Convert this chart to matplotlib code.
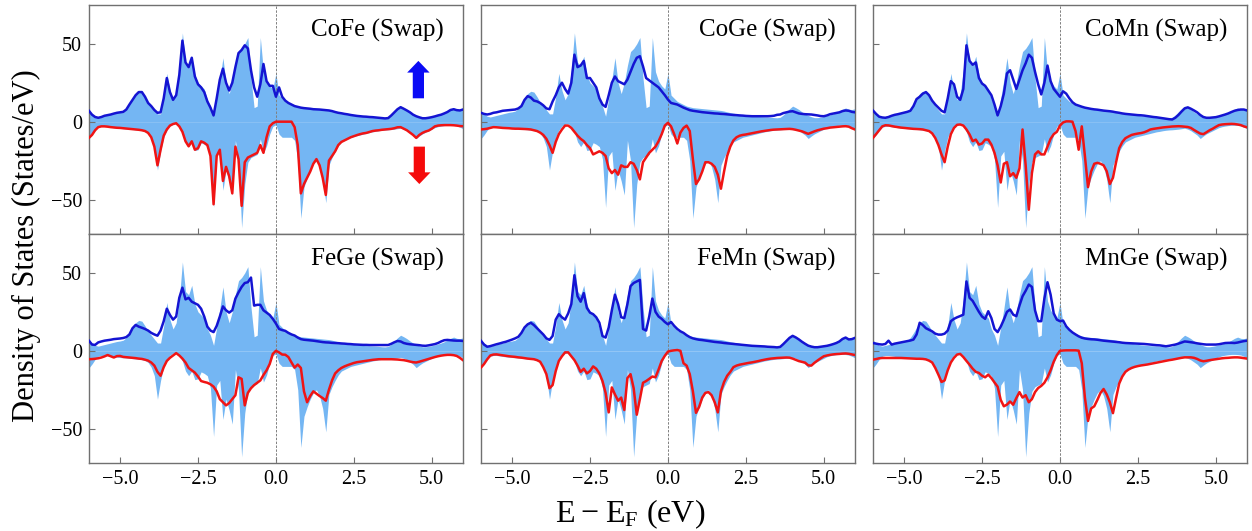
import numpy as np
import matplotlib
matplotlib.use("Agg")
import matplotlib.pyplot as plt

plt.rcParams["font.family"] = ["Liberation Serif", "DejaVu Serif"]
plt.rcParams["mathtext.fontset"] = "custom"
plt.rcParams["mathtext.rm"] = "Liberation Serif"
plt.rcParams["mathtext.default"] = "regular"

# Energy grid (eV, relative to the Fermi level)
energy = np.linspace(-6.0, 6.0, 121)

# Pristine reference DOS (shaded background)
ref_up = [7, 5, 3.5, 3, 3.5, 4, 4.5, 5, 5.5, 6,
          6.3, 6.8, 8.5, 11.5, 15, 18, 19.5, 19, 16, 12.5,
          10, 7.5, 5, 5, 16, 31, 20, 14, 18, 33,
          57, 38, 36, 42, 30, 25, 23, 21, 14, 10,
          3.5, 15, 27, 41, 25, 18, 25, 36, 45, 47,
          50, 54, 28, 9, 10, 54, 32, 26, 23, 21,
          31, 17, 15, 13, 12, 11, 10, 9.5, 9, 8.8,
          8.6, 8.4, 8.2, 8, 7.8, 7.6, 7.4, 7.2, 6.8, 6.3,
          5.8, 5.5, 5.1, 4.8, 4.4, 4.1, 3.8, 3.6, 3.4, 3.3,
          3.2, 3.1, 3, 2.8, 2.6, 2.5, 2.8, 4.3, 6.3, 8.3,
          10, 9, 7.8, 6.3, 5, 4, 3.2, 2.6, 2.6, 2.9,
          3.3, 3.8, 4.4, 5, 5.8, 6.8, 8, 8.8, 8, 7.8,
          8.3]
ref_dn = [-11, -8.5, -5.5, -3.5, -3, -3, -3.3, -3.6, -3.9, -4.1,
          -4.3, -4.5, -4.6, -4.8, -5, -5.2, -5.4, -5.7, -6.2, -7.5,
          -10.5, -16, -31, -19, -10, -5.5, -2.8, -1.6, -1.3, -3.2,
          -6.5, -13, -16, -13, -18.5, -18, -13.5, -14.5, -16, -24,
          -55, -22, -19, -44, -31, -38, -47, -12, -25, -68,
          -40, -26, -23, -22, -21, -11, -20, -15.5, -8, -3,
          -2, -8, -10, -10, -10, -10, -12, -25, -62, -42,
          -36, -31, -27, -25, -29, -37, -52, -28, -23, -19,
          -15.5, -13, -12, -11, -10, -9.5, -9, -8.5, -8, -7.5,
          -7, -6.5, -6.2, -5.8, -5.5, -5.3, -5.2, -5, -4.8, -4.5,
          -4.2, -4.8, -5.8, -7.2, -8.6, -10.8, -9.2, -7.8, -6.8, -5.8,
          -4.8, -3.8, -3.2, -2.8, -2.5, -2.3, -2.3, -2.4, -2.7, -3.5,
          -4.5]

# Swapped structures: spin-up DOS
cofe_up = [7, 4.5, 3, 2.5, 3, 3.8, 4.2, 4.6, 5.2, 5.7,
           6, 6.3, 7.8, 11, 14, 17, 19, 19, 16, 12,
           10, 7.5, 5.7, 6, 15, 28, 19, 14, 17, 30,
           52, 38, 35, 41, 29, 24, 22, 19, 13, 9,
           4, 15, 27, 34, 25, 20, 25, 35, 44, 46,
           49, 47, 33, 22, 16, 24, 37, 26, 23, 23,
           16, 22, 16, 13.5, 12, 11, 10, 9.5, 9, 8.7,
           8.5, 8.3, 8, 7.9, 7.8, 7.6, 7.4, 7.2, 6.8, 6.2,
           5.7, 5.4, 5, 4.7, 4.3, 4, 3.7, 3.5, 3.3, 3.2,
           3, 2.9, 2.7, 2.5, 2.3, 2.1, 2.3, 4, 6, 8,
           9.3, 8.3, 7.2, 6, 4.5, 3.5, 2.8, 2.2, 2.2, 2.5,
           2.9, 3.4, 4, 4.5, 5.3, 6.2, 7.5, 8, 7.4, 7.2,
           7.8]
coge_up = [5.7, 5, 4.6, 5, 5.7, 6, 6.5, 7, 7.2, 7.4,
           7.6, 7.8, 8.5, 10, 14, 16.4, 15.5, 13.5, 13, 12,
           10.5, 8.5, 8, 13, 17, 22, 25, 21, 18, 25,
           43, 35, 36, 39, 28, 28, 25, 22, 15, 11,
           9.5, 17, 25, 29, 26, 25, 24, 27, 32, 37,
           41, 42, 35.5, 28, 26.5, 25, 23.5, 22, 19.5, 17,
           14.2, 12, 11.5, 11, 10, 9, 8.2, 7.4, 7, 6.7,
           6.4, 6.1, 5.9, 5.7, 5.5, 5.3, 5.2, 5, 4.9, 4.7,
           4.5, 4.3, 4.2, 4, 3.9, 3.7, 3.6, 3.5, 3.5, 3.5,
           3.5, 3.5, 3.5, 3.6, 3.8, 4.4, 4.6, 5.5, 6, 6.5,
           6.7, 6, 5.3, 5, 4.8, 4.7, 4.6, 4.3, 4, 3.6,
           3.5, 4, 4.8, 5.2, 5.6, 6, 6.8, 7.2, 7, 6.3,
           6]
comn_up = [7.2, 5, 3.2, 2.7, 2.5, 3, 3.8, 4.4, 4.8, 5.3,
           5.8, 6.3, 7, 10, 14.5, 16, 18, 19, 17, 13.5,
           11, 9, 7, 6, 15, 26, 24, 16, 14, 21,
           49, 39, 36.5, 38, 28, 24.5, 23, 20, 17, 11,
           4, 10, 18, 31, 33, 27, 21, 27, 33, 37.5,
           43, 41, 32, 24, 17.5, 25, 36, 26, 21, 18.5,
           16, 19.5, 18, 15, 12.5, 11, 10.3, 9.6, 9, 8.6,
           8.2, 7.9, 7.7, 7.4, 7.1, 6.9, 6.7, 6.4, 6, 5.7,
           5.3, 5, 4.8, 4.6, 4.4, 4.2, 4.1, 3.9, 3.6, 3.3,
           3, 2.8, 2.5, 2.2, 1.9, 1.6, 1.4, 2.5, 4.3, 6.5,
           8.5, 9.2, 8.3, 7.2, 6, 4.3, 3, 2.5, 2.5, 2.7,
           2.9, 3.4, 4, 4.6, 5.3, 6.2, 7, 7.5, 7.8, 7.8,
           7.2]
fege_up = [6.5, 4, 3.8, 5.4, 6, 6.5, 6.8, 7.1, 7.5, 7.7,
           7.9, 8.2, 8.8, 10.5, 14.5, 16.6, 15.5, 14.8, 14, 13,
           11.5, 10.5, 9.7, 13, 19, 27, 23, 20, 22, 34,
           40.5, 33, 34, 31.5, 30.5, 29.5, 27, 22, 15.5, 13,
           12, 16, 22, 28.5, 26, 24.5, 26, 33.5, 37.5, 41,
           43.5, 44, 47, 29, 29.5, 29.5, 26, 24.5, 23, 20.5,
           17.5, 14, 13.3, 12.8, 11.5, 10.5, 9.8, 8.5, 7.5, 7.1,
           6.9, 6.7, 6.5, 6.2, 5.9, 5.6, 5.4, 5.3, 5.1, 5,
           4.9, 4.7, 4.6, 4.4, 4.3, 4.1, 4, 3.9, 3.8, 3.8,
           3.7, 3.7, 3.7, 3.7, 3.7, 3.7, 3.7, 4.5, 5.5, 6.3,
           6, 5, 4.5, 4.2, 4, 3.8, 3.6, 3.3, 3.2, 3.5,
           3.9, 4.3, 5, 6, 6.8, 7, 6.8, 6.6, 6.5, 6.5,
           6.3]
femn_up = [6.5, 4, 2.6, 3, 3.6, 4.2, 4.7, 5.3, 5.8, 6.5,
           7.2, 8, 9, 11.5, 15, 17, 18, 16.5, 14.5, 12.5,
           10.5, 8, 7, 9.5, 20, 23.5, 21.5, 20, 24, 30,
           48.5, 35, 31.5, 37, 27.5, 24.5, 23.5, 21.5, 18, 9.5,
           8.5, 15, 26, 36, 30, 21.5, 21, 30, 41.5, 43.5,
           44.5, 45.5, 14, 13, 22, 33.5, 25, 22, 20.5, 18.5,
           17, 18.5, 16, 14, 12.5, 11.5, 10, 8.8, 8, 7.5,
           7.1, 6.9, 6.6, 6.3, 6, 5.7, 5.5, 5.3, 5, 4.8,
           4.6, 4.4, 4.2, 4, 3.8, 3.6, 3.4, 3.2, 3.1, 3,
           2.9, 2.8, 2.6, 2.5, 2.4, 2.2, 2.5, 4.3, 6.3, 8.3,
           9.6, 8.6, 7.3, 5.8, 4.5, 3.3, 2.7, 2.3, 2.3, 2.6,
           2.9, 3.2, 3.7, 4.3, 5, 6, 7.6, 8.5, 7.3, 7.5,
           8.3]
mnge_up = [5, 4.6, 4.2, 4, 4.4, 6.5, 4, 4.6, 5, 5.4,
           5.8, 6.2, 6.6, 7.2, 10.5, 18, 16.5, 14.5, 13.5, 12.5,
           11, 10.4, 10.4, 11, 13, 19, 20.5, 21.5, 22.3, 23.2,
           44.5, 34, 32, 28.5, 25, 22, 20.5, 25.4, 21, 14,
           12, 15.5, 20, 25, 26.5, 23.2, 22.2, 29, 35, 38.5,
           42.5, 41, 26, 19, 19, 33.5, 44, 36, 24, 20,
           19, 19.4, 15.7, 13.5, 11.8, 10.5, 9.3, 8.4, 7.9, 7.6,
           7.4, 7.3, 7.1, 6.8, 6.5, 6.3, 6.1, 5.9, 5.7, 5.5,
           5.2, 5, 4.9, 4.8, 4.7, 4.6, 4.5, 4.4, 4.2, 4,
           3.8, 3.6, 3.5, 3.2, 2.9, 3.2, 3.6, 4, 4.6, 5.3,
           6, 5.8, 5.5, 5.2, 4.8, 4.5, 4.2, 4, 4, 4,
           4, 4.2, 4.6, 5, 5.1, 5.1, 5, 5.3, 5.8, 6.2,
           6.5]

# Swapped structures: spin-down DOS (plotted as negative)
cofe_dn = [-10.4, -8.5, -5.5, -3.5, -3, -3, -3.2, -3.5, -3.7, -3.9,
           -4, -4.2, -4.4, -4.6, -4.8, -5, -5.2, -5.5, -6, -7.2,
           -10, -16, -28, -18, -9, -5, -2.5, -1.5, -1, -3,
           -6.5, -12.6, -15.8, -12.6, -18, -17, -12.6, -13.5, -15, -22,
           -53, -22, -18, -38, -29, -35, -46, -16, -24, -54,
           -26, -23, -22, -21, -20, -15, -20, -10, -3, -1,
           0, 0, 0, 0, 0, 0, -3.5, -15, -46, -40,
           -36, -32, -27, -24, -28, -36, -47, -25, -22, -19,
           -15, -13, -12, -11, -10, -9.3, -8.6, -8, -7.5, -7.2,
           -6.6, -6, -5.7, -5.5, -5.2, -5, -4.8, -4.6, -4.2, -3.6,
           -3.5, -4.5, -5.5, -7, -8.5, -10.4, -8.5, -7.2, -6.3, -5.7,
           -4.5, -3, -2.5, -2.3, -2.2, -2.2, -2.2, -2.3, -2.5, -2.8,
           -2.9]
coge_dn = [-5, -4.8, -4.5, -4, -3.5, -3.6, -3.8, -4, -4.1, -4.2,
           -4.4, -4.5, -4.5, -4.6, -4.7, -4.8, -5, -5.5, -6, -7,
           -8.5, -11, -15, -20, -13, -8, -5, -2.5, -2.5, -4,
           -6.5, -9, -11, -12.5, -15, -17, -21, -20, -19, -20,
           -22, -30, -33, -31, -34, -28, -29, -29, -26, -27,
           -31, -37, -26, -23, -20, -18, -16, -12.5, -8, -2.5,
           -0.7, -3, -8, -14, -7, -4, -2.5, -6, -24, -40,
           -37, -32, -26, -26, -27, -29, -34, -43, -32, -22,
           -16, -12, -10, -9, -8.5, -8.2, -7.8, -7.4, -7, -6.6,
           -6.2, -5.9, -5.6, -5.3, -5.1, -5, -4.9, -4.8, -4.7, -4.6,
           -4.8, -5.2, -5.7, -6.2, -7, -7.8, -7, -6.2, -5.5, -5,
           -4.5, -4.2, -3.8, -3.6, -3.4, -3.2, -3, -2.9, -3.2, -4.2,
           -5]
comn_dn = [-10.4, -8, -5.5, -3, -2.3, -2.4, -2.8, -3.2, -3.5, -3.8,
           -4, -4.2, -4.4, -4.6, -4.7, -4.8, -5, -5.5, -6, -7.5,
           -10.5, -15, -21, -26, -16, -8, -4, -2, -1.8, -2.5,
           -5, -8.2, -12.5, -11.5, -14.7, -14, -11.5, -11.5, -14.7, -20,
           -28, -39, -27, -26, -35, -33, -36, -30, -5, -28,
           -56.5, -33, -21, -19, -21, -21, -16, -11, -8, -6.5,
           -2.5, -0.5, 0.2, 0.2, 0, -6, -18, -3, -22, -42,
           -32, -27, -26.4, -27, -28, -31.8, -40, -36, -26, -17,
           -13, -10.6, -9.5, -8.5, -8, -7.6, -7.3, -6.8, -6, -5,
           -4.6, -4.3, -4, -3.7, -3.5, -3.3, -3.1, -3, -2.9, -3,
           -3.2, -3.4, -4, -5.3, -6.5, -7.6, -8, -6.8, -5.5, -4.5,
           -3.3, -2.2, -1.8, -1.6, -1.5, -1.4, -1.5, -1.8, -2.2, -3,
           -3.6]
fege_dn = [-5.4, -5.3, -5.1, -4.8, -4.3, -3.6, -2.7, -3.5, -4.3, -3.4,
           -3.3, -3.9, -4.1, -4.3, -4.5, -4.7, -5, -5.2, -5.7, -6.3,
           -7.5, -9.5, -13.5, -16, -10.5, -6.5, -4.5, -3, -1.5, -3,
           -5, -7.5, -11, -12.5, -14, -16.5, -19.4, -20, -20.5, -21.5,
           -23, -26, -31, -33, -35, -33.5, -31, -28.5, -17, -18,
           -35, -27, -24, -22, -20.5, -19, -15.5, -12.5, -8.5, -2,
           0, -1, -2.4, -2.5, -4, -7.5, -10.8, -8.8, -11, -26,
           -33, -29, -26, -27.5, -29, -30.3, -32, -25, -19, -14.5,
           -12.5, -11, -10, -9.2, -8.5, -7.8, -7.3, -7, -6.7, -6.4,
           -6.1, -5.8, -5.6, -5.4, -5.4, -5.4, -5.4, -5.4, -5.5, -5.6,
           -5.8, -6, -6.4, -6.9, -7.3, -7.5, -7, -6.4, -5.8, -5.2,
           -4.6, -4, -3.5, -3.1, -2.8, -2.6, -2.6, -2.8, -3.3, -4.5,
           -6]
femn_dn = [-10.8, -8.5, -5.5, -3, -2.4, -2.3, -2.6, -2.9, -3.2, -3.5,
           -3.7, -3.9, -4.2, -4.4, -4.7, -5, -5.2, -5.4, -6, -7,
           -10.5, -15, -24, -22, -13, -6.5, -3.5, -1, -1, -3.5,
           -6, -9.5, -13.5, -11.5, -14.5, -13, -10, -11.5, -14.5, -19.4,
           -27, -39.5, -23.5, -28, -32, -30, -38, -17.5, -15, -24,
           -41, -31, -20.5, -19.4, -18, -16.5, -17, -12, -6.5, -3.2,
           -0.5, 0, 0.3, 0.5, 0, -8, -9.5, -15, -26, -39.8,
           -36, -30, -27, -26.5, -28.5, -33, -39.5, -26, -20, -16,
           -13.5, -10.5, -9.5, -8.9, -8.5, -8.1, -7.7, -7.4, -7, -6.6,
           -6.1, -5.7, -5.3, -5, -4.8, -4.6, -4.5, -4.4, -4.3, -4.4,
           -5, -5.8, -6.6, -7.1, -7.6, -9.3, -9.5, -7.7, -6.2, -4.8,
           -3.5, -3, -2.6, -2.3, -2.1, -2, -1.8, -1.7, -1.9, -2.3,
           -2.7]
mnge_dn = [-5.7, -5.3, -4.8, -4.6, -4.6, -4.6, -4.6, -4.6, -4.6, -4.6,
           -4.7, -4.8, -4.9, -5, -5.1, -5.1, -5.2, -5.5, -6.3, -7.5,
           -11, -15.3, -20, -19, -12.5, -7.5, -4.5, -2.4, -2, -4,
           -6.5, -8.9, -11.5, -13.5, -14.2, -16, -17, -15.3, -17.5, -20.3,
           -23, -31.5, -35.6, -34.5, -32.5, -34.6, -30.3, -26.5, -30, -28.5,
           -33, -31, -26.5, -23.9, -22.5, -20.5, -17, -12.5, -7, -2.8,
           0, 0.2, 0.3, 0.3, 0.3, 0.3, 0.1, -8, -30, -45,
           -37, -35.6, -31.5, -27, -24.5, -28, -33, -40, -30.3, -21,
           -16.5, -13.5, -12, -11, -10.3, -9.8, -9.4, -9.1, -8.8, -8.4,
           -8, -7.6, -7.2, -6.8, -6.4, -6, -5.7, -5.3, -4.9, -4.5,
           -4.2, -4.2, -4.2, -4.5, -5.2, -6.2, -6.7, -6.4, -6, -5.7,
           -5.4, -5.1, -4.8, -4.6, -4.5, -4.3, -4.2, -4.2, -4.4, -4.7,
           -5]

pairs = ["CoFe", "CoGe", "CoMn", "FeGe", "FeMn", "MnGe"]
spin_up = [cofe_up, coge_up, comn_up, fege_up, femn_up, mnge_up]
spin_dn = [cofe_dn, coge_dn, comn_dn, fege_dn, femn_dn, mnge_dn]

x_ticks = [-5.0, -2.5, 0.0, 2.5, 5.0]
y_ticks = [-50, 0, 50]

fill_color = "#74b6f3"
up_color = "#1414d2"
dn_color = "#f01414"
frame_color = "#707070"

fig, axes = plt.subplots(2, 3, figsize=(12.52, 5.31), dpi=100,
                         sharex=True, sharey=True)
fig.subplots_adjust(left=0.071, right=0.996, top=0.991, bottom=0.128,
                    wspace=0.048, hspace=0.0)

for ax, name, up, dn in zip(axes.flat, pairs, spin_up, spin_dn):
    ax.fill_between(energy, 0, ref_up, color=fill_color, lw=0, zorder=1)
    ax.fill_between(energy, 0, ref_dn, color=fill_color, lw=0, zorder=1)
    ax.plot(energy, dn, color=dn_color, lw=1.8, zorder=3)
    ax.plot(energy, up, color=up_color, lw=1.8, zorder=3)
    ax.axvline(0.0, color="#808080", lw=0.7, ls=(0, (2.5, 1.5)), zorder=2)
    ax.text(0.948, 0.94, f"{name} (Swap)", transform=ax.transAxes,
            ha="right", va="top", fontsize=18)
    ax.set_xlim(-6.0, 6.0)
    ax.set_ylim(-72, 75)
    ax.set_xticks(x_ticks)
    ax.set_yticks(y_ticks)
    ax.tick_params(direction="in", length=4, width=0.8, color=frame_color,
                   labelsize=14.5, pad=5)
    for sp in ax.spines.values():
        sp.set_color(frame_color)
        sp.set_linewidth(1.0)

# Spin direction markers
ax0 = axes[0, 0]
ax0.arrow(4.57, 15, 0, 16.5, width=0.36, head_width=0.72, head_length=7.5,
          length_includes_head=False, color="#0a0af5", lw=0, zorder=4)
ax0.arrow(4.6, -16, 0, -16.5, width=0.36, head_width=0.72, head_length=7.5,
          length_includes_head=False, color="#f50a0a", lw=0, zorder=4)

fig.text(0.021, 0.538, "Density of States (States/eV)", rotation=90,
         ha="center", va="center", fontsize=22)
fig.text(0.503, 0.032, r"$\mathregular{E-E_F}$ (eV)", ha="center",
         va="center", fontsize=23)

fig.savefig("out.png", dpi=100)
